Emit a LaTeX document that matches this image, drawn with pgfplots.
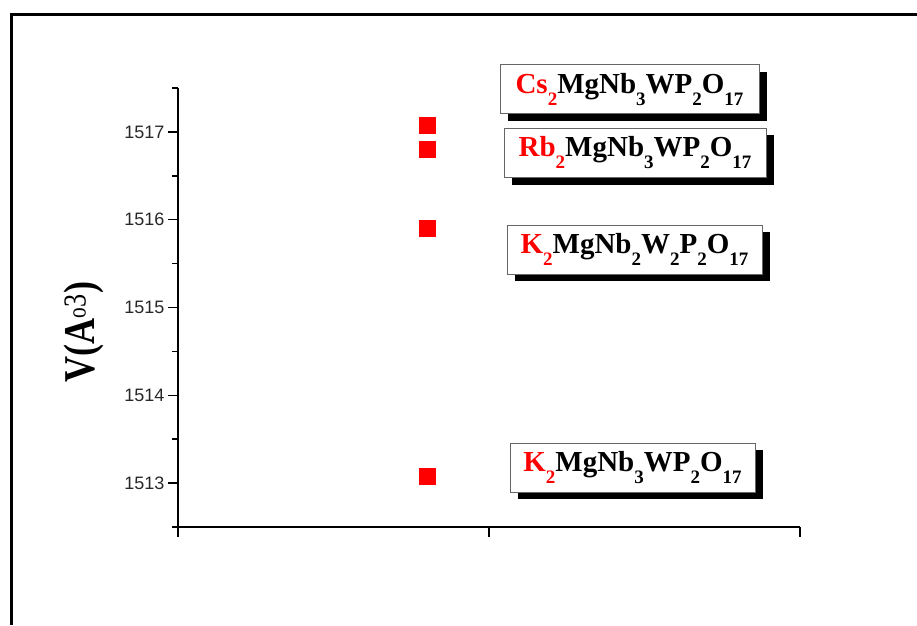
\documentclass[border=0pt]{standalone}
\usepackage{fontspec}
\setmainfont{Liberation Serif}
\setsansfont{Liberation Sans}
\usepackage{pgfplots}
\pgfplotsset{compat=1.18}
\usetikzlibrary{shadows}
\definecolor{tickgray}{RGB}{40,40,40}
\newcommand{\sub}[1]{\raisebox{-12pt}{\fontsize{19}{19}\selectfont #1}}
\newcommand{\red}[1]{\textcolor{red}{#1}}
\begin{document}
\begin{tikzpicture}
\path[use as bounding box] (0pt,0pt) rectangle (917pt,625pt);
\draw[line width=3pt] (11.5pt,0pt) -- (11.5pt,610pt) -- (917pt,610pt);
\begin{axis}[
  at={(178pt,98pt)}, anchor=south west,
  scale only axis, width=622pt, height=439pt,
  xmin=0, xmax=2, ymin=1512.5, ymax=1517.5,
  axis x line*=bottom, axis y line*=left,
  axis line style={line width=1.5pt,-},
  xtick={0,1,2}, xticklabels={},
  ytick={1513,1514,1515,1516,1517},
  minor ytick={1512.5,1513.5,1514.5,1515.5,1516.5,1517.5},
  tick align=outside,
  major tick length=10pt, minor tick length=6pt,
  every tick/.style={line width=1.5pt, black},
  /pgf/number format/assume math mode=true,
  /pgf/number format/1000 sep={},
  yticklabel style={font=\sffamily\fontsize{18}{18}\selectfont, text=tickgray},
  clip=false,
]
\addplot[only marks, mark=square*, mark size=8pt, red, mark options={fill=red, draw=red}]
  coordinates {(0.8,1517.08) (0.8,1516.80) (0.8,1515.90) (0.8,1513.08)};
\end{axis}
\node[rotate=90, font=\fontsize{44}{44}\selectfont\bfseries] at (84pt,293pt) {\scalebox{0.82}[1]{V(A\textsuperscript{\mdseries\fontsize{26}{26}\selectfont o\fontsize{32}{32}\selectfont 3})}};
\tikzset{box/.style={draw=black!60, line width=1pt, fill=white,
  drop shadow={shadow xshift=8pt, shadow yshift=-7pt, opacity=1, fill=black},
  minimum height=49pt, inner sep=0pt, font=\fontsize{29}{29}\selectfont\bfseries}}
\node[box, minimum width=259pt] at (629.5pt,535.5pt) {\red{Cs\sub{2}}MgNb\sub{3}WP\sub{2}O\sub{17}};
\node[box, minimum width=262pt] at (635pt,472pt) {\red{Rb\sub{2}}MgNb\sub{3}WP\sub{2}O\sub{17}};
\node[box, minimum width=255pt] at (634.5pt,375.5pt) {\red{K\sub{2}}MgNb\sub{2}W\sub{2}P\sub{2}O\sub{17}};
\node[box, minimum width=245pt] at (632.5pt,157.5pt) {\red{K\sub{2}}MgNb\sub{3}WP\sub{2}O\sub{17}};
\end{tikzpicture}
\end{document}
